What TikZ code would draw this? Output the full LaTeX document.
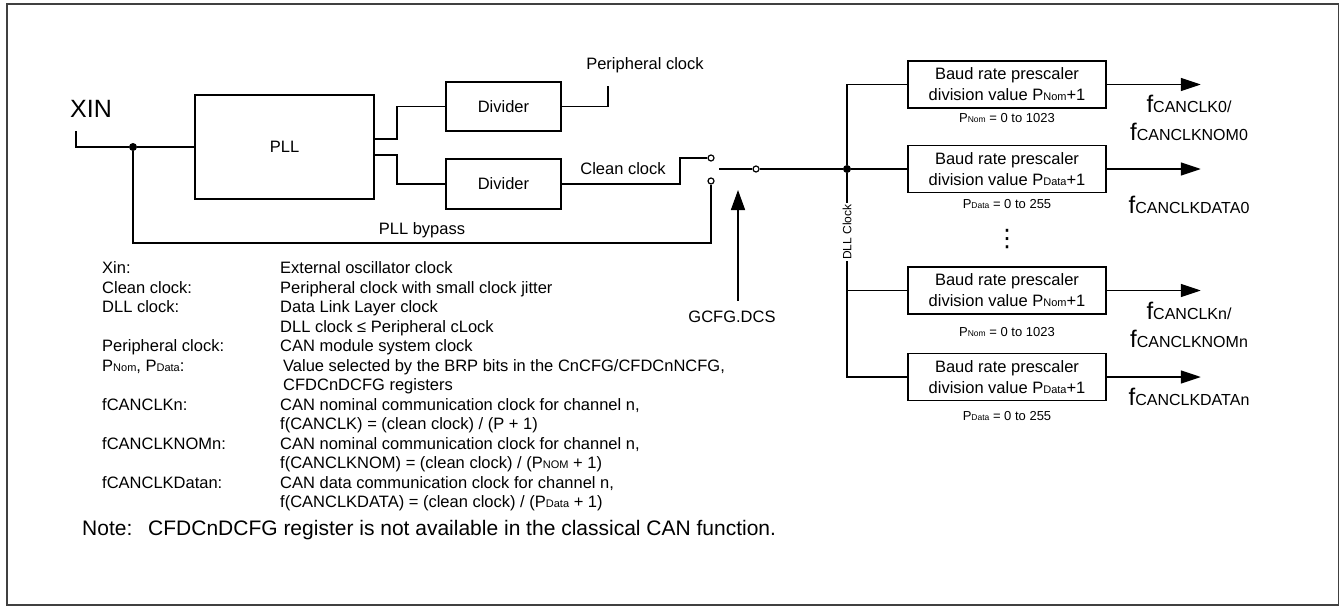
\documentclass[tikz,border=0pt]{standalone}
\usepackage{fontspec}
\setmainfont{Liberation Sans}
\newfontfamily\symfont{DejaVu Sans}
\usetikzlibrary{arrows.meta,positioning,calc}

\newcommand{\fsz}[2]{{\fontsize{#1}{#1}\selectfont #2}}
\newcommand{\fclk}[1]{\fsz{24}{f}\fsz{16}{#1}}

\begin{document}
\begin{tikzpicture}[
  x=1pt, y=-1pt,
  font=\fontsize{16.5}{21}\selectfont,
  wire/.style={line width=1.6pt},
  blk/.style={draw, line width=1.6pt, rectangle, align=center, inner sep=0pt},
  brp/.style={blk, minimum width=198pt, minimum height=47pt},
  dot/.style={circle, fill, inner sep=0pt, minimum size=8pt},
  contact/.style={circle, draw, fill=white, line width=1.2pt, inner sep=0pt, minimum size=6pt},
  outarr/.style={-{Triangle[length=20pt, width=13pt]}, line width=1.6pt},
  selarr/.style={-{Triangle[length=20pt, width=14pt]}, line width=1.6pt},
  rng/.style={font=\fontsize{13}{15}\selectfont, inner sep=0pt},
  outlbl/.style={align=center, inner sep=0pt, font=\fontsize{16}{28}\selectfont}
]
\useasboundingbox (0,0) rectangle (1340,607);
\draw[line width=1.8pt, black!75] (7,4) rectangle (1338.5,605);

\node (xinlbl) at (91,109) {\fsz{25}{XIN}};
\coordinate (xin) at (75.7,131);
\node[dot] (jxin) at (133,147) {};
\node[blk, minimum width=179pt, minimum height=104pt] (pll) at (284.5,147) {PLL};
\node[blk, minimum width=115pt, minimum height=49pt] (divper) at (503.5,106.5) {Divider};
\node[blk, minimum width=115pt, minimum height=50pt] (divclean) at (503.5,184) {Divider};
\node (perlbl) at (645,65) {Peripheral clock};
\coordinate (perout) at (608,86);
\node (cleanlbl) at (623,169) {Clean clock};
\node (bypasslbl) at (422,230) {PLL bypass};

\node[contact] (c1) at (711,158) {};
\node[contact] (c2) at (711,181) {};
\node[contact] (c3) at (756,169) {};
\coordinate (lever) at (719,169);
\node (gcfg) at (732,317) {GCFG.DCS};
\coordinate (dcs) at (738,190);

\node[dot] (jdll) at (847,169) {};
\node[brp] (b1) at (1007,84.5) {Baud rate prescaler\\division value P\fsz{11}{Nom}+1};
\node[brp] (b2) at (1007,169) {Baud rate prescaler\\division value P\fsz{11}{Data}+1};
\node[brp] (b3) at (1007,290.5) {Baud rate prescaler\\division value P\fsz{11}{Nom}+1};
\node[brp] (b4) at (1007,377) {Baud rate prescaler\\division value P\fsz{11}{Data}+1};
\node[rng, below=4pt of b1] (r1) {P\fsz{8.5}{Nom} = 0 to 1023};
\node[rng, below=6pt of b2] (r2) {P\fsz{8.5}{Data} = 0 to 255};
\node[rng, below=12pt of b3] (r3) {P\fsz{8.5}{Nom} = 0 to 1023};
\node[rng, below=10pt of b4] (r4) {P\fsz{8.5}{Data} = 0 to 255};
\node[inner sep=0pt] (vdots) at (1007,239) {\symfont\fsz{24}{⋮}};

\node[outlbl] (o1) at (1189,117.5) {\fclk{CANCLK0/}\\\fclk{CANCLKNOM0}};
\node[outlbl] (o2) at (1189,205) {\fclk{CANCLKDATA0}};
\node[outlbl] (o3) at (1189,325) {\fclk{CANCLKn/}\\\fclk{CANCLKNOMn}};
\node[outlbl] (o4) at (1189,397) {\fclk{CANCLKDATAn}};

\draw[wire] (xin) |- (jxin) -- (pll.west);
\draw[wire] (jxin) -- ++(0,96) -| (c2);
\draw[wire] ([yshift=8pt]pll.east) -- ++(22,0) |- (divper.west);
\draw[wire] ([yshift=-8pt]pll.east) -- ++(22,0) |- (divclean.west);
\draw[wire] (divper.east) -| (perout);
\draw[wire] (divclean.east) -- ++(118,0) |- (c1);
\draw[wire] (lever) -- (c3);
\draw[wire] (c3) -- (jdll);
\draw[wire] (b1.west) -| (jdll);
\draw[wire] (jdll) -- (b2.west);
\draw[wire] (jdll) |- (b4.west);
\draw[wire] (b3.west) -- ++(-61,0);
\draw[selarr] ($(gcfg.north -| dcs)+(0,-7)$) -- (dcs);
\foreach \b in {b1,b2,b3,b4}
  \draw[outarr] (\b.east) -- ++(94,0);
\node[rotate=90, fill=white, inner sep=1pt, font=\fontsize{12}{12}\selectfont] (dllclk) at (847,232) {DLL Clock};

\node[anchor=base west, inner sep=0pt, font=\fontsize{16.5}{19.5}\selectfont] (legend) at (102,273.5) {%
\begin{tabular}[t]{@{}p{178pt}@{}l@{}}
Xin: & External oscillator clock\\
Clean clock: & Peripheral clock with small clock jitter\\
DLL clock: & Data Link Layer clock\\
 & DLL clock ≤ Peripheral cLock\\
Peripheral clock: & CAN module system clock\\
P\fsz{11}{Nom}, P\fsz{11}{Data}: & \hspace{3pt}Value selected by the BRP bits in the CnCFG/CFDCnNCFG,\\
 & \hspace{3pt}CFDCnDCFG registers\\
fCANCLKn: & CAN nominal communication clock for channel n,\\
 & f(CANCLK) = (clean clock) / (P + 1)\\
fCANCLKNOMn: & CAN nominal communication clock for channel n,\\
 & f(CANCLKNOM) = (clean clock) / (P\fsz{11}{NOM} + 1)\\
fCANCLKDatan: & CAN data communication clock for channel n,\\
 & f(CANCLKDATA) = (clean clock) / (P\fsz{11}{Data} + 1)
\end{tabular}};
\node[anchor=base west, inner sep=0pt, font=\fontsize{21}{24}\selectfont] (notelbl) at (82,535) {Note:};
\node[anchor=base west, inner sep=0pt, font=\fontsize{21}{24}\selectfont] (notetxt) at (148,535) {CFDCnDCFG register is not available in the classical CAN function.};
\end{tikzpicture}
\end{document}
